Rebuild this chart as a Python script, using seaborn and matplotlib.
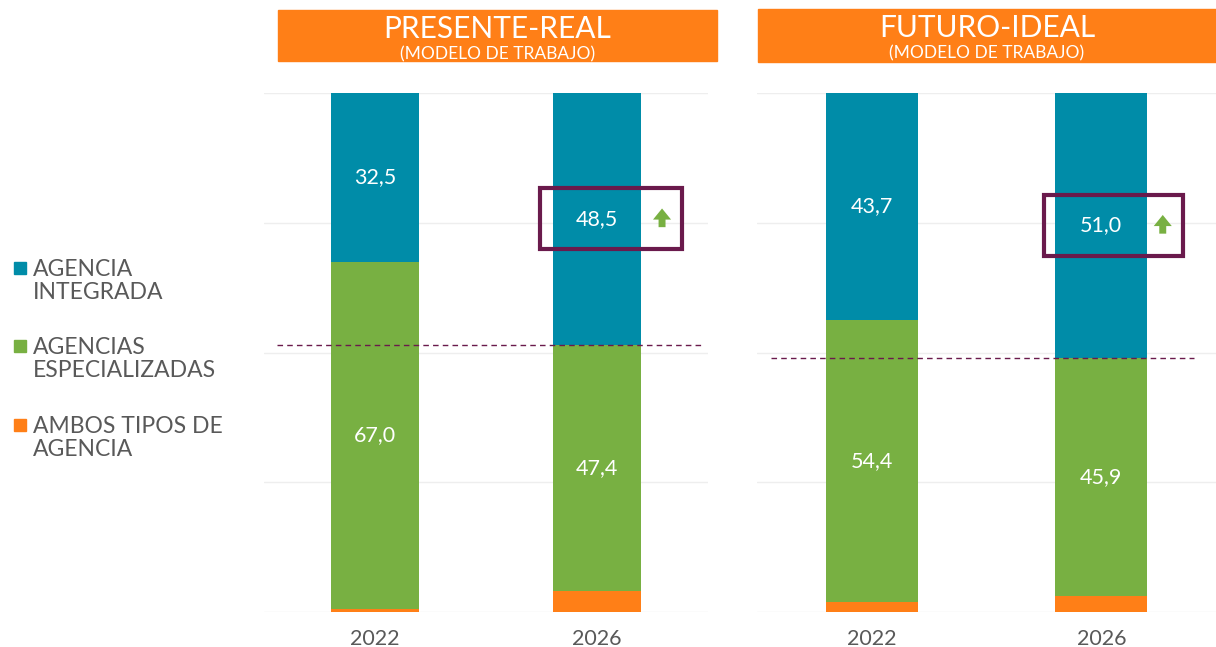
import numpy as np
import matplotlib.pyplot as plt
import matplotlib.patches as mpatches
import seaborn as sns

# datos (%)
anios = ['2022', '2026']
presente_integrada = [32.5, 48.5]
presente_especializadas = [67.0, 47.4]
presente_ambos = [0.5, 4.1]
futuro_integrada = [43.7, 51.0]
futuro_especializadas = [54.4, 45.9]
futuro_ambos = [1.9, 3.1]

leyenda = ['AGENCIA\nINTEGRADA', 'AGENCIAS\nESPECIALIZADAS', 'AMBOS TIPOS DE\nAGENCIA']
titulos = ['PRESENTE-REAL', 'FUTURO-IDEAL']
subtitulo = '(MODELO DE TRABAJO)'

AZUL = '#008CA8'
VERDE = '#78B042'
NARANJA = '#FF7F17'
MORADO = '#6A1A4C'
GRIS = '#595959'

sns.set_style('white')
plt.rcParams['font.family'] = ['Lato', 'DejaVu Sans']

W, H = 1216, 647
fig = plt.figure(figsize=(W / 100, H / 100), dpi=100)


def fx(px):
    return px / W


def fy(py):
    return 1 - py / H


def panel(rect, integrada, especializadas, ambos, titulo, caja_px):
    ax = fig.add_axes(rect)
    ambos = np.array(ambos)
    medio = ambos + np.array(especializadas)
    total = medio + np.array(integrada)
    # barras apiladas: se dibuja de atras hacia delante
    for alturas, color in [(total, AZUL), (medio, VERDE), (ambos, NARANJA)]:
        sns.barplot(x=anios, y=alturas, color=color, width=0.4, saturation=1,
                    errorbar=None, linewidth=0, ax=ax)
    for i in range(len(anios)):
        ax.text(i, ambos[i] + especializadas[i] / 2, ('%.1f' % especializadas[i]).replace('.', ','),
                ha='center', va='center', color='white', fontsize=15.5)
        ax.text(i, medio[i] + integrada[i] / 2, ('%.1f' % integrada[i]).replace('.', ','),
                ha='center', va='center', color='white', fontsize=15.5)
    ax.set_ylim(0, 100)
    ax.set_xlim(-0.5, 1.5)
    ax.set_yticks([0, 25, 50, 75, 100])
    ax.set_yticklabels([])
    ax.yaxis.grid(True, color='#EEEEEE', lw=1)
    ax.set_axisbelow(True)
    sns.despine(ax=ax, left=True, bottom=True, top=True, right=True)
    ax.tick_params(axis='x', length=0, pad=12, labelsize=15.5, labelcolor=GRIS)
    ax.tick_params(axis='y', length=0)
    ax.set_xlabel('')
    ax.set_ylabel('')

    # linea de referencia en el tope del verde de 2026
    ax.hlines(medio[1], caja_px[0], caja_px[1], colors=MORADO, linestyles=(0, (4, 3)), lw=1)

    # caja resaltada alrededor del valor de 2026
    yc = medio[1] + integrada[1] / 2
    ax.add_patch(mpatches.Rectangle((caja_px[2], yc - 5.9), caja_px[3] - caja_px[2], 11.8,
                                    fill=False, edgecolor=MORADO, lw=3, zorder=5))
    xa = caja_px[3] - 0.09
    ax.annotate('', xy=(xa, yc + 2.0), xytext=(xa, yc - 1.6),
                arrowprops=dict(arrowstyle='simple,head_width=1.3,head_length=0.8,tail_width=0.5',
                                color=VERDE, lw=0, shrinkA=0, shrinkB=0), zorder=6)

    # cabecera naranja
    x0, x1, y0, y1 = titulo[1]
    fig.patches.append(mpatches.Rectangle((fx(x0), fy(y1)), fx(x1 - x0), (y1 - y0) / H,
                                          transform=fig.transFigure, color=NARANJA, zorder=0))
    fig.text(fx((x0 + x1) / 2), fy(y0 + 19), titulo[0], ha='center', va='center',
             color='white', fontsize=21.5)
    fig.text(fx((x0 + x1) / 2), fy(y0 + 44), subtitulo, ha='center', va='center',
             color='white', fontsize=12.5)
    return ax


panel([fx(264), fy(612), fx(444), 519 / H], presente_integrada, presente_especializadas,
      presente_ambos, (titulos[0], (278, 717, 10, 61)), (-0.44, 1.48, 0.743, 1.383))
panel([fx(757), fy(612), fx(459), 519 / H], futuro_integrada, futuro_especializadas,
      futuro_ambos, (titulos[1], (758, 1216, 9, 62)), (-0.44, 1.405, 0.75, 1.358))

# leyenda manual
for etiqueta, color, yp in zip(leyenda, [AZUL, VERDE, NARANJA], [268, 346, 425]):
    fig.patches.append(mpatches.Rectangle((fx(14), fy(yp + 6)), fx(12), 12 / H,
                                          transform=fig.transFigure, color=color))
    fig.text(fx(33), fy(yp - 9), etiqueta, ha='left', va='top', color=GRIS,
             fontsize=16.5, linespacing=1.1)

fig.savefig('out.png', dpi=100)
